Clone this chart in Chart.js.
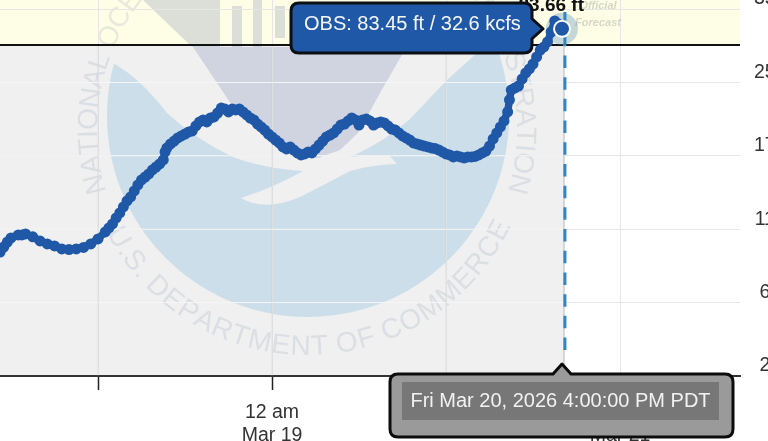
<!DOCTYPE html>
<html>
<head>
<meta charset="utf-8">
<title>Hydrograph</title>
<script src="https://cdn.jsdelivr.net/npm/chart.js@4/dist/chart.umd.min.js"></script>
<style>
	html, body { margin: 0; padding: 0; background: #fff; overflow: hidden; }
	canvas { display: block; }
</style>
</head>
<body>
<canvas id="hydrograph" width="768" height="441"></canvas>
<script>
// hours relative to 12 am Mar 19
var obsHours = [-37.5,-37,-36.5,-36,-35,-34.5,-34,-33,-32,-31,-30,-29,-28,-27,-26,-25,-24,-23,-22.5,-22,-21.5,-21,-20.5,-20,-19.5,-19,-18.5,-18,-17.5,-17,-16.5,-16,-15.5,-15,-14.75,-14.5,-14,-13.5,-13,-12.5,-12,-11.5,-11,-10.5,-10,-9.5,-9,-8.5,-8,-7.5,-7,-6.5,-6,-5.5,-5,-4.5,-4,-3.5,-3,-2.5,-2,-1.5,-1,-0.5,0,0.5,1,1.5,2,2.5,3,3.5,4,4.5,5,5.5,6,6.5,7,7.5,8,8.5,9,9.5,10,10.5,11,11.5,12,12.5,13,13.5,14,14.5,15,15.5,16,16.5,17,17.5,18,18.5,19,19.5,20,20.5,21,21.5,22,22.5,23,23.5,24,24.5,25,25.5,26,26.5,27,27.5,28,28.5,29,29.5,30,30.5,31,31.5,32,32.5,32.75,33,33.5,34,34.5,35,35.5,36,36.5,37,37.5,38,38.5,39,39.5,40];
var obsStage = [68.45,68.79,69.13,69.41,69.61,69.61,69.68,69.48,69.20,69.00,68.86,68.66,68.62,68.66,68.76,69.00,69.34,69.82,70.09,70.36,70.77,71.11,71.52,71.93,72.20,72.61,73.02,73.36,73.56,73.77,74.04,74.24,74.45,74.72,75.27,75.54,75.81,76.01,76.22,76.36,76.49,76.63,76.70,77.04,77.31,77.45,77.31,77.58,77.65,77.92,78.26,78.19,77.99,78.19,78.13,78.19,77.99,77.79,77.58,77.45,77.17,76.97,76.76,76.49,76.29,76.08,75.88,75.61,75.47,75.61,75.40,75.20,75.06,75.13,75.27,75.20,75.47,75.74,76.01,76.29,76.42,76.56,76.83,77.10,77.17,77.38,77.58,77.45,77.10,77.45,77.51,77.38,77.10,77.24,77.31,77.24,77.04,76.83,76.76,76.56,76.36,76.22,76.08,75.88,75.81,75.74,75.67,75.61,75.54,75.50,75.40,75.27,75.13,75.06,74.93,74.99,74.93,74.86,74.93,74.93,74.96,75.06,75.20,75.33,75.67,76.15,76.56,76.97,77.38,77.99,78.81,79.49,79.63,79.76,80.24,80.65,80.92,81.26,81.74,82.21,82.42,82.76,83.44,84.19,83.99,83.68];

var xTickHours = [-24, 0, 24, 48];
var xTickLabels = ['', ['12 am', 'Mar 19'], '', ['12 am', 'Mar 21']];
var stageTicks = [60, 65, 70, 75, 80, 85];
var flowTickLabels = ['2', '6', '11', '17', '25', '35'];

var latestHour = 40;
var latestStage = 83.66;
var nowHour = 40.4;
var floodStage = 82.55;
var hourMin = -37.52;
var hourMax = 64.55;
var stageMin = 60;
var stageMax = 85.62;

var latestLabel = '83.66 ft';
var obsLabel = 'OBS: 83.45 ft / 32.6 kcfs';
var timeLabel = 'Fri Mar 20, 2026 4:00:00 PM PDT';

var blue = '#2058a8';
var sans = '"Liberation Sans", Arial, sans-serif';

function polygon(ctx, pts) {
	ctx.beginPath();
	pts.forEach(function(p, i) {
		if (i === 0) ctx.moveTo(p[0], p[1]);
		else ctx.lineTo(p[0], p[1]);
	});
	ctx.closePath();
	ctx.fill();
}

function curvedText(ctx, text, cx, cy, r, fromAngle, toAngle, outward) {
	var widths = text.split('').map(function(c) { return ctx.measureText(c).width; });
	var total = widths.reduce(function(a, b) { return a + b; }, 0);
	var step = (toAngle - fromAngle) / total;
	var at = fromAngle;
	text.split('').forEach(function(c, i) {
		var mid = at + step * widths[i] / 2;
		ctx.save();
		ctx.translate(cx + r * Math.cos(mid), cy + r * Math.sin(mid));
		ctx.rotate(outward ? mid + Math.PI / 2 : mid - Math.PI / 2);
		ctx.textAlign = 'center';
		ctx.fillText(c, 0, 0);
		ctx.restore();
		at += step * widths[i];
	});
}

function drawLogo(ctx) {
	var deg = Math.PI / 180;
	// ocean
	ctx.save();
	ctx.fillStyle = '#cbdeea';
	ctx.beginPath();
	ctx.arc(308, 116, 201, 195.2 * deg, -18 * deg, true);
	ctx.lineTo(477, 53);
	ctx.lineTo(447, 80);
	ctx.lineTo(409, 120);
	ctx.lineTo(387, 137);
	ctx.quadraticCurveTo(370, 148, 350, 157);
	ctx.quadraticCurveTo(375, 155, 390, 156);
	ctx.lineTo(397, 164);
	ctx.quadraticCurveTo(370, 165, 350, 171);
	ctx.quadraticCurveTo(320, 187, 300, 197);
	ctx.quadraticCurveTo(265, 212, 241, 198);
	ctx.quadraticCurveTo(275, 187, 303, 171);
	ctx.quadraticCurveTo(262, 168, 233, 157);
	ctx.quadraticCurveTo(195, 139, 167, 113);
	ctx.quadraticCurveTo(140, 78, 113, 63);
	ctx.closePath();
	ctx.fill();

	// sky and buildings
	ctx.fillStyle = 'rgba(80,100,160,0.2)';
	polygon(ctx, [[143,0],[220,0],[220,47],[193,47],[190,45]]);
	polygon(ctx, [[193,47],[233,107],[262,135],[300,155],[318,158],[340,150],[358,133],[380,93],[403,53],[410,47]]);
	polygon(ctx, [[232,6],[242,6],[242,47],[232,47]]);
	polygon(ctx, [[253,0],[262,0],[262,47],[253,47]]);
	polygon(ctx, [[275,6],[285,6],[285,38],[275,38]]);

	// lettering round the seal
	ctx.fillStyle = 'rgba(80,100,140,0.13)';
	ctx.font = '28px ' + sans;
	ctx.textBaseline = 'alphabetic';
	curvedText(ctx, 'NATIONAL OCEANIC AND ATMOSPHERIC ADMINISTRATION', 307, 130, 210, 163 * deg, 377 * deg, true);
	curvedText(ctx, 'U.S. DEPARTMENT OF COMMERCE', 307, 130, 225, 153 * deg, 25 * deg, false);
	ctx.restore();
}

var backgroundPlugin = {
	id: 'background',
	beforeDraw: function(chart) {
		var ctx = chart.ctx;
		var x = chart.scales.x;
		var y = chart.scales.y;
		var a = chart.chartArea;
		var floodY = y.getPixelForValue(floodStage);
		var nowX = x.getPixelForValue(nowHour) - 1;
		ctx.save();
		ctx.fillStyle = '#fefee6';
		ctx.fillRect(a.left, a.top, a.right - a.left, floodY - a.top);
		ctx.fillStyle = '#f0f0f0';
		ctx.fillRect(a.left, floodY, nowX - a.left, a.bottom - floodY);
		drawLogo(ctx);
		ctx.restore();
	},
	beforeDatasetsDraw: function(chart) {
		// grid reads differently over the observed part
		var ctx = chart.ctx;
		var x = chart.scales.x;
		var y = chart.scales.y;
		var a = chart.chartArea;
		var floodY = y.getPixelForValue(floodStage);
		var nowX = x.getPixelForValue(nowHour) - 1;
		ctx.save();
		ctx.lineWidth = 1;
		ctx.strokeStyle = 'rgba(255,255,255,0.65)';
		stageTicks.forEach(function(v) {
			var py = y.getPixelForValue(v);
			if (py > floodY && py < a.bottom - 2) {
				ctx.beginPath();
				ctx.moveTo(a.left, py);
				ctx.lineTo(nowX, py);
				ctx.stroke();
			}
		});
		ctx.strokeStyle = 'rgba(190,198,205,0.35)';
		xTickHours.forEach(function(v) {
			var px = x.getPixelForValue(v);
			if (px < nowX) {
				ctx.beginPath();
				ctx.moveTo(px, floodY);
				ctx.lineTo(px, a.bottom);
				ctx.stroke();
			}
		});
		ctx.restore();
	}
};

var calloutPlugin = {
	id: 'callouts',
	afterDraw: function(chart) {
		var ctx = chart.ctx;
		var px = chart.scales.x.getPixelForValue(latestHour);
		var py = chart.scales.y.getPixelForValue(latestStage);
		var rad = 8;
		ctx.save();

		// faint forecast stamp
		ctx.font = 'italic bold 11px ' + sans;
		ctx.fillStyle = 'rgba(120,125,125,0.3)';
		ctx.textAlign = 'center';
		ctx.textBaseline = 'middle';
		ctx.fillText('Official', px + 36, 6);
		ctx.fillText('Forecast', px + 36, 23);

		ctx.font = 'bold 19px ' + sans;
		ctx.fillStyle = '#111';
		ctx.textAlign = 'right';
		ctx.textBaseline = 'alphabetic';
		ctx.fillText(latestLabel, px + 22, 11);

		// observed value callout
		var l = px - 271, r = px - 30, t = 3, b = 53;
		ctx.beginPath();
		ctx.moveTo(l + rad, t);
		ctx.lineTo(r - rad, t);
		ctx.quadraticCurveTo(r, t, r, t + rad);
		ctx.lineTo(r, py - 10);
		ctx.lineTo(px - 19, py);
		ctx.lineTo(r, py + 10);
		ctx.lineTo(r, b - rad);
		ctx.quadraticCurveTo(r, b, r - rad, b);
		ctx.lineTo(l + rad, b);
		ctx.quadraticCurveTo(l, b, l, b - rad);
		ctx.lineTo(l, t + rad);
		ctx.quadraticCurveTo(l, t, l + rad, t);
		ctx.closePath();
		ctx.fillStyle = blue;
		ctx.fill();
		ctx.lineWidth = 3;
		ctx.strokeStyle = '#0c0f14';
		ctx.lineJoin = 'round';
		ctx.stroke();
		ctx.fillStyle = '#f4f6fa';
		ctx.font = '20px ' + sans;
		ctx.textAlign = 'left';
		ctx.textBaseline = 'middle';
		ctx.fillText(obsLabel, l + 13, 24);

		// time callout
		l = 390; r = 733; t = 374; b = 437;
		ctx.beginPath();
		ctx.moveTo(l + rad, t);
		ctx.lineTo(px - 9, t);
		ctx.lineTo(px, t - 10);
		ctx.lineTo(px + 9, t);
		ctx.lineTo(r - rad, t);
		ctx.quadraticCurveTo(r, t, r, t + rad);
		ctx.lineTo(r, b - rad);
		ctx.quadraticCurveTo(r, b, r - rad, b);
		ctx.lineTo(l + rad, b);
		ctx.quadraticCurveTo(l, b, l, b - rad);
		ctx.lineTo(l, t + rad);
		ctx.quadraticCurveTo(l, t, l + rad, t);
		ctx.closePath();
		ctx.fillStyle = '#9a9a9a';
		ctx.fill();
		ctx.strokeStyle = '#0c0c0c';
		ctx.stroke();
		ctx.fillStyle = '#777777';
		ctx.fillRect(402, 382, 317, 38);
		ctx.fillStyle = '#f2f2f2';
		ctx.textAlign = 'center';
		ctx.fillText(timeLabel, 560.5, 401);
		ctx.restore();
	}
};

// the plot runs to the window edge, so no room is kept for overhanging labels
function noOverhang(scale) {
	scale.paddingLeft = 0;
	scale.paddingRight = 0;
	scale.paddingTop = 0;
	scale.paddingBottom = 0;
}

var points = obsHours.map(function(h, i) {
	return { x: h, y: obsStage[i] };
});

new Chart(document.getElementById('hydrograph'), {
	type: 'line',
	data: {
		datasets: [
			{
				label: 'Latest',
				data: [{ x: latestHour, y: latestStage }],
				showLine: false,
				pointRadius: 8,
				pointBackgroundColor: blue,
				pointBorderColor: '#ffffff',
				pointBorderWidth: 2,
				clip: false
			},
			{
				label: 'Now',
				data: [{ x: nowHour, y: 84.8 }, { x: nowHour, y: 61.25 }],
				borderColor: '#2f86c3',
				borderWidth: 3,
				borderDash: [12.5, 9.2],
				pointRadius: 0
			},
			{
				label: 'Observed',
				data: points,
				borderColor: blue,
				borderWidth: 7.5,
				borderJoinStyle: 'round',
				tension: 0,
				pointRadius: 5.5,
				pointBackgroundColor: blue,
				pointBorderWidth: 0
			},
			{
				label: 'Latest halo',
				data: [{ x: latestHour, y: latestStage }],
				showLine: false,
				pointRadius: 16,
				pointBackgroundColor: 'rgba(120,165,195,0.42)',
				pointBorderWidth: 0,
				clip: false
			},
			{
				label: 'Now base',
				data: [{ x: nowHour - 0.14, y: floodStage }, { x: nowHour - 0.14, y: stageMin }],
				borderColor: '#d2d2d2',
				borderWidth: 1,
				pointRadius: 0
			},
			{
				label: 'Flood stage',
				data: [{ x: hourMin, y: floodStage }, { x: hourMax, y: floodStage }],
				borderColor: '#111111',
				borderWidth: 2,
				pointRadius: 0
			}
		]
	},
	options: {
		responsive: false,
		animation: false,
		layout: { padding: 0, autoPadding: false },
		plugins: {
			legend: { display: false },
			tooltip: { enabled: false }
		},
		scales: {
			x: {
				type: 'linear',
				min: hourMin,
				max: hourMax,
				afterBuildTicks: function(scale) {
					scale.ticks = xTickHours.map(function(v) { return { value: v }; });
				},
				afterFit: function(scale) {
					scale.height = 65;
					noOverhang(scale);
				},
				border: { color: '#333333', width: 2 },
				grid: { color: '#e6e6e6', lineWidth: 1, tickColor: '#222222', tickLength: 14, tickWidth: 1.5 },
				ticks: {
					autoSkip: false,
					maxRotation: 0,
					padding: 11,
					color: '#333333',
					font: { family: sans, size: 19.5 },
					callback: function(value, index) {
						return xTickLabels[index];
					}
				}
			},
			y: {
				type: 'linear',
				position: 'right',
				min: stageMin,
				max: stageMax,
				afterBuildTicks: function(scale) {
					scale.ticks = stageTicks.map(function(v) { return { value: v }; });
				},
				afterFit: function(scale) {
					scale.width = 28;
					noOverhang(scale);
				},
				border: { display: false },
				grid: { color: '#e6e6e6', lineWidth: 1, drawTicks: false },
				ticks: {
					padding: 14,
					crossAlign: 'center',
					labelOffset: -10,
					color: '#333333',
					font: { family: sans, size: 19.5 },
					callback: function(value, index) {
						return flowTickLabels[index];
					}
				}
			}
		}
	},
	plugins: [backgroundPlugin, calloutPlugin]
});
</script>
</body>
</html>
